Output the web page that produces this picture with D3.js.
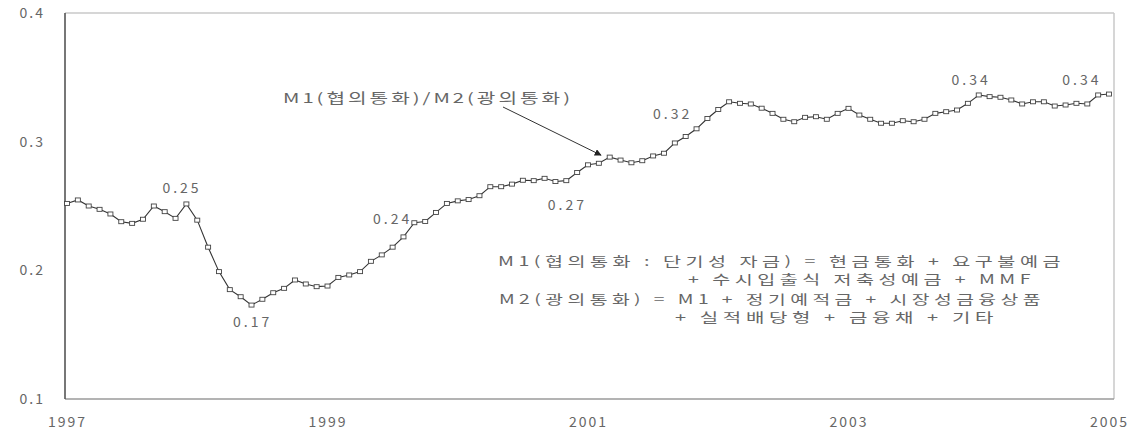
<!DOCTYPE html>
<html><head><meta charset="utf-8">
<script src="https://cdn.jsdelivr.net/npm/d3@7"></script>
<style>
html,body{margin:0;padding:0;background:#fff;}
svg{display:block;}
text{font-family:"Noto Sans CJK KR","Noto Sans",sans-serif;fill:#666;}
</style></head>
<body>
<svg id="chart" width="1140" height="435"></svg>
<script>
// monthly ratio M1/M2, Jan 1997 .. Jan 2005
const ratio = [
0.252,0.2547,0.250,0.2474,0.2438,0.2378,0.2365,0.2397,0.250,0.2456,0.2404,0.2516,
0.239,0.218,0.199,0.185,0.1795,0.173,0.1775,0.1826,0.186,0.1925,0.1894,0.1873,
0.1878,0.1945,0.1964,0.199,0.207,0.212,0.218,0.226,0.237,0.238,0.245,0.252,
0.254,0.255,0.258,0.265,0.265,0.267,0.270,0.2697,0.2715,0.269,0.2697,0.276,
0.282,0.2832,0.288,0.2857,0.2836,0.2852,0.2889,0.291,0.299,0.304,0.310,0.318,
0.325,0.331,0.3298,0.3293,0.326,0.322,0.3174,0.3155,0.3189,0.3194,0.3174,0.322,
0.3259,0.3207,0.3174,0.3143,0.3143,0.3163,0.3155,0.3174,0.322,0.3233,0.3246,0.3298,
0.3363,0.335,0.3345,0.3324,0.3293,0.331,0.331,0.3277,0.3285,0.3298,0.3293,0.3363,
0.337];
const xTickIdx = [0,24,48,72,96];
const xTickLabels = ["1997","1999","2001","2003","2005"];
const yTicks = [0.1,0.2,0.3,0.4];
const yTickLabels = ["0.1","0.2","0.3","0.4"];
const valueLabels = ["0.25","0.17","0.24","0.27","0.32","0.34","0.34"];
const seriesName = "M1(협의통화)/M2(광의통화)";
const noteLines = [
  "M1(협의통화 : 단기성 자금) = 현금통화 + 요구불예금",
  "+ 수시입출식 저축성예금 + MMF",
  "M2(광의통화) = M1 + 정기예적금 + 시장성금융상품",
  "+ 실적배당형 + 금융채 + 기타"
];

const svg = d3.select("#chart");
const L=65, R=1114, T=13, B=399;
const x = d3.scaleLinear().domain([0,96]).range([67,1109]);
const y = d3.scaleLinear().domain([0.1,0.4]).range([B,T]);

// frame
svg.append("line").attr("x1",L).attr("x2",R).attr("y1",T).attr("y2",T).attr("stroke","#c8c8c8").attr("stroke-width",1.5);
svg.append("line").attr("x1",R).attr("x2",R).attr("y1",T).attr("y2",B).attr("stroke","#c8c8c8").attr("stroke-width",1.5);
svg.append("line").attr("x1",L).attr("x2",R).attr("y1",B).attr("y2",B).attr("stroke","#9a9a9a").attr("stroke-width",1.5);
svg.append("line").attr("x1",L).attr("x2",L).attr("y1",T).attr("y2",B).attr("stroke","#555").attr("stroke-width",1.6);

// y axis labels
const ya = svg.append("g").attr("transform",`translate(${L},0)`)
  .call(d3.axisLeft(y).tickValues(yTicks).tickSize(0).tickPadding(20).tickFormat((d,i)=>yTickLabels[i]));
ya.select(".domain").remove();
ya.selectAll("text").attr("font-size",14).attr("letter-spacing","2px").attr("fill","#777")
  .attr("font-family","'Liberation Sans',sans-serif");

// x axis labels
const xa = svg.append("g").attr("transform",`translate(0,${B})`)
  .call(d3.axisBottom(x).tickValues(xTickIdx).tickSize(0).tickPadding(18).tickFormat((d,i)=>xTickLabels[i]));
xa.select(".domain").remove();
xa.selectAll("text").attr("font-size",14).attr("letter-spacing","2px").attr("fill","#777")
  .attr("font-family","'Liberation Sans',sans-serif");

// line
const line = d3.line().x((d,i)=>x(i)).y(d=>y(d));
svg.append("path").datum(ratio).attr("d",line).attr("fill","none").attr("stroke","#333").attr("stroke-width",1.1);
svg.append("g").selectAll("rect").data(ratio).join("rect")
  .attr("x",(d,i)=>x(i)-2.5).attr("y",d=>y(d)-2).attr("width",5).attr("height",4)
  .attr("fill","#fff").attr("stroke","#444").attr("stroke-width",0.9);

// value labels placed in data coordinates
const labelPos = [[10.6,0.2645],[17.1,0.1605],[30.0,0.2404],[46.1,0.2512],[55.8,0.3222],[83.3,0.3486],[93.5,0.3486]];
svg.append("g").selectAll("text").data(valueLabels).join("text")
  .attr("x",(d,i)=>x(labelPos[i][0])).attr("y",(d,i)=>y(labelPos[i][1]))
  .attr("text-anchor","middle").attr("dominant-baseline","central")
  .attr("font-size",14).attr("letter-spacing","3px").attr("fill","#777")
  .attr("font-family","'Liberation Sans',sans-serif")
  .text(d=>d);

// series name with arrow
svg.append("defs").append("marker").attr("id","ah").attr("viewBox","0 0 10 10")
  .attr("refX",9).attr("refY",5).attr("markerWidth",7).attr("markerHeight",7).attr("orient","auto")
  .append("path").attr("d","M0,0L10,5L0,10z").attr("fill","#222");
svg.append("text").attr("x",283).attr("y",97).attr("dominant-baseline","central")
  .attr("font-size",13.5).attr("letter-spacing","2px").attr("textLength",290).attr("lengthAdjust","spacingAndGlyphs").attr("fill","#555").text(seriesName);
svg.append("line").attr("x1",503).attr("y1",107).attr("x2",x(49.2)).attr("y2",y(0.2895))
  .attr("stroke","#333").attr("stroke-width",1).attr("marker-end","url(#ah)");

// notes
const notePos = [[498,260,567],[688,278,347],[499,298,546],[675,316,323]];
svg.append("g").selectAll("text").data(noteLines).join("text")
  .attr("x",(d,i)=>notePos[i][0]).attr("y",(d,i)=>notePos[i][1])
  .attr("dominant-baseline","central").attr("font-size",13).attr("letter-spacing","3px")
  .attr("font-family","'Liberation Sans','Noto Sans CJK KR',sans-serif")
  .attr("textLength",(d,i)=>notePos[i][2]).attr("lengthAdjust","spacingAndGlyphs")
  .attr("fill","#666").text(d=>d);
</script>
</body></html>
